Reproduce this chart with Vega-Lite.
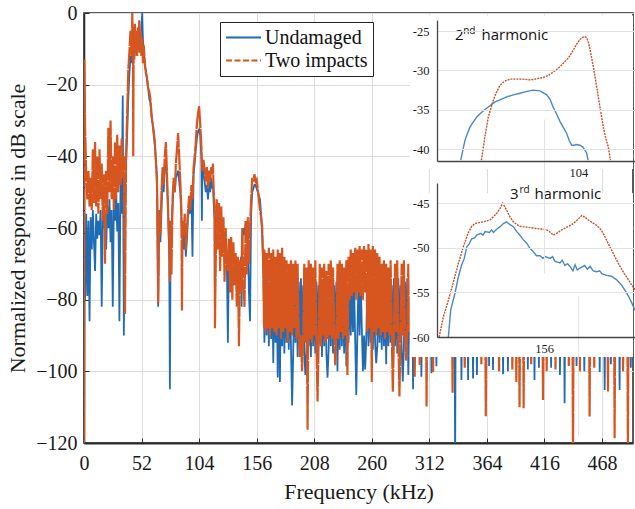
{
"$schema": "https://vega.github.io/schema/vega-lite/v6.json",
"width": 549, "height": 430,
"autosize": {"type": "none"},
"padding": {"left": 84, "top": 13, "right": 2, "bottom": 66},
"background": "white",
"config": {
  "view": {"stroke": "#262626", "strokeWidth": 1.5},
  "axis": {"labelFont": "Liberation Serif", "labelFontSize": 20, "labelColor": "#1a1a1a", "titleFont": "Liberation Serif", "titleFontSize": 22, "titleFontWeight": "normal", "titleColor": "#1a1a1a", "gridColor": "#dcdcdc", "gridWidth": 1, "domainColor": "#2a2a2a", "tickColor": "#2a2a2a"}
},
"datasets": {
"m": [
{"f":0,"u":-125,"t":-125},{"f":0.4,"u":-62,"t":-13},{"f":1,"u":-80,"t":-32},{"f":2,"u":-56,"t":-45},{"f":3,"u":-79,"t":-52},{"f":4,"u":-58,"t":-44},{"f":5,"u":-86,"t":-54},{"f":6,"u":-57,"t":-46},{"f":7,"u":-66,"t":-55},{"f":8,"u":-55,"t":-38},{"f":9,"u":-64,"t":-53},{"f":10,"u":-72,"t":-36},{"f":11,"u":-56,"t":-54},{"f":12,"u":-63,"t":-40},{"f":13,"u":-58,"t":-56},{"f":14,"u":-62,"t":-38},{"f":15,"u":-55,"t":-52},{"f":16,"u":-82,"t":-42},{"f":17,"u":-57,"t":-58},{"f":18,"u":-60,"t":-45},{"f":19,"u":-58,"t":-70},{"f":20,"u":-66,"t":-44},{"f":21,"u":-54,"t":-56},{"f":22,"u":-60,"t":-32},{"f":23,"u":-52,"t":-50},{"f":24,"u":-64,"t":-30},{"f":25,"u":-55,"t":-52},{"f":26,"u":-82,"t":-40},{"f":27,"u":-52,"t":-55},{"f":28,"u":-58,"t":-36},{"f":29,"u":-50,"t":-52},{"f":30,"u":-61,"t":-34},{"f":31,"u":-53,"t":-50},{"f":32,"u":-86,"t":-37},{"f":33,"u":-48,"t":-48},{"f":34,"u":-56,"t":-35},{"f":35,"u":-23,"t":-46},{"f":36,"u":-90,"t":-40},{"f":37,"u":-50,"t":-84},{"f":38,"u":-42,"t":-40},
{"f":39,"u":-34,"t":-28},{"f":40,"u":-24,"t":-16},{"f":41,"u":-17,"t":-11},{"f":42,"u":-12,"t":-5},{"f":43,"u":-14,"t":-12},{"f":43.6,"u":-9,"t":0},{"f":44.2,"u":-13,"t":-9},{"f":44.5,"u":-10,"t":-40},{"f":44.9,"u":-12,"t":-4},{"f":45.5,"u":-7,"t":-13},{"f":46,"u":-11,"t":-3},{"f":46.7,"u":-6,"t":-11},{"f":47.3,"u":-12,"t":-5},{"f":48,"u":-7,"t":-12},{"f":48.7,"u":-10,"t":-4},{"f":49.3,"u":-5,"t":-10},{"f":49.9,"u":-11,"t":-2},{"f":50.5,"u":-6,"t":-11},{"f":51.2,"u":-9,"t":-5},{"f":51.8,"u":-4,"t":-12},{"f":52.6,"u":0,"t":-7},{"f":53.2,"u":-7,"t":-14},{"f":54,"u":-11,"t":-9},{"f":55,"u":-15,"t":-14},{"f":56,"u":-16,"t":-17},{"f":57,"u":-19,"t":-18},{"f":58,"u":-21,"t":-21},{"f":59,"u":-24,"t":-22},{"f":60,"u":-25,"t":-24},{"f":61,"u":-29,"t":-28},{"f":62,"u":-31,"t":-31},{"f":63,"u":-34,"t":-33},{"f":64,"u":-37,"t":-36},{"f":65,"u":-41,"t":-42},{"f":66,"u":-46,"t":-48},{"f":67,"u":-82,"t":-81},{"f":68,"u":-56,"t":-55},{"f":69,"u":-64,"t":-62},
{"f":70,"u":-55,"t":-50},{"f":71,"u":-46,"t":-43},{"f":72,"u":-50,"t":-48},{"f":73,"u":-42,"t":-40},{"f":74,"u":-41,"t":-36},{"f":75,"u":-47,"t":-45},{"f":76,"u":-56,"t":-55},{"f":77,"u":-68,"t":-64},{"f":77.6,"u":-105,"t":-75},{"f":78.3,"u":-62,"t":-58},{"f":79,"u":-60,"t":-73},{"f":80,"u":-54,"t":-52},{"f":81,"u":-48,"t":-46},{"f":82,"u":-50,"t":-50},{"f":83,"u":-46,"t":-42},{"f":84,"u":-45,"t":-38},{"f":85,"u":-44,"t":-33.5},{"f":86,"u":-47,"t":-40},{"f":87,"u":-50,"t":-47},{"f":88,"u":-57,"t":-55},{"f":88.5,"u":-62,"t":-83},{"f":89,"u":-60,"t":-58},{"f":90,"u":-66,"t":-62},{"f":91,"u":-60,"t":-56},{"f":92,"u":-68,"t":-66},{"f":93,"u":-63,"t":-60},{"f":94,"u":-57,"t":-55},{"f":95,"u":-54,"t":-51},{"f":96,"u":-56,"t":-55},{"f":97,"u":-50,"t":-48},{"f":98,"u":-68,"t":-52},{"f":99,"u":-45,"t":-43},{"f":100,"u":-42,"t":-40},{"f":101,"u":-38,"t":-36},{"f":102,"u":-35,"t":-31},{"f":103,"u":-33,"t":-28},{"f":104,"u":-32.5,"t":-26},
{"f":105,"u":-34,"t":-31},{"f":106,"u":-40,"t":-37},{"f":106.5,"u":-58,"t":-41},{"f":107,"u":-42,"t":-44},{"f":108,"u":-45,"t":-41},{"f":109,"u":-47,"t":-44},{"f":110,"u":-50,"t":-47},{"f":111,"u":-48,"t":-43},{"f":112,"u":-52,"t":-49},{"f":113,"u":-47,"t":-44},{"f":114,"u":-50,"t":-47},{"f":115,"u":-46,"t":-43},{"f":116,"u":-49,"t":-45},{"f":116.5,"u":-48,"t":-42},{"f":117,"u":-52,"t":-48},{"f":118,"u":-58,"t":-55},{"f":118.3,"u":-83,"t":-88},{"f":119,"u":-57,"t":-70},{"f":120,"u":-56,"t":-52},{"f":121,"u":-55,"t":-66},{"f":122,"u":-58,"t":-53},{"f":123,"u":-57,"t":-72},{"f":124,"u":-60,"t":-54},{"f":125,"u":-59,"t":-68},{"f":126,"u":-62,"t":-57},{"f":127,"u":-64,"t":-75},{"f":128,"u":-66,"t":-60},{"f":129,"u":-68,"t":-70},{"f":130,"u":-92,"t":-72},{"f":131,"u":-66,"t":-63},{"f":132,"u":-64,"t":-78},{"f":133,"u":-66,"t":-62.5},{"f":134,"u":-65,"t":-80},{"f":135,"u":-70,"t":-64},{"f":136,"u":-69,"t":-76},{"f":137,"u":-71,"t":-67},{"f":138,"u":-72,"t":-82},{"f":139,"u":-74,"t":-68},{"f":140,"u":-78,"t":-93},{"f":141,"u":-70,"t":-69},{"f":142,"u":-68,"t":-78},{"f":142.4,"u":-82,"t":-72},{"f":143,"u":-63,"t":-60},{"f":144,"u":-60,"t":-75},{"f":145,"u":-62,"t":-82},{"f":146,"u":-59,"t":-58},{"f":147,"u":-60,"t":-73},{"f":148,"u":-61,"t":-57},{"f":149,"u":-78,"t":-70},{"f":150,"u":-86,"t":-60},{"f":151,"u":-56,"t":-52},{"f":152,"u":-50,"t":-46},{"f":153,"u":-49,"t":-47},{"f":154,"u":-48,"t":-45},{"f":155,"u":-48,"t":-47},{"f":156,"u":-49,"t":-46.5},{"f":157,"u":-50,"t":-49},{"f":158,"u":-51,"t":-52},{"f":159,"u":-52,"t":-55},{"f":160,"u":-56,"t":-57},{"f":161,"u":-62,"t":-60},{"f":162,"u":-70,"t":-72},{"f":162.7,"u":-86,"t":-88},
{"f":163,"u":-92,"t":-66},{"f":164,"u":-74,"t":-89},{"f":165,"u":-90,"t":-67},{"f":166,"u":-72,"t":-88},{"f":167,"u":-93,"t":-65.5},{"f":168,"u":-75,"t":-90},{"f":169,"u":-91,"t":-67},{"f":170,"u":-73,"t":-88},{"f":171,"u":-97.7,"t":-66},{"f":172,"u":-74,"t":-89},{"f":173,"u":-92,"t":-68},{"f":174,"u":-72,"t":-90},{"f":175,"u":-101.7,"t":-66},{"f":176,"u":-76,"t":-88},{"f":177,"u":-103,"t":-67},{"f":178,"u":-74,"t":-91},{"f":179,"u":-93,"t":-65.5},{"f":180,"u":-73,"t":-89},{"f":181,"u":-95,"t":-68},{"f":182,"u":-75,"t":-88},{"f":183,"u":-92,"t":-69},{"f":184,"u":-74,"t":-92},{"f":185,"u":-94,"t":-70},{"f":186,"u":-76,"t":-89},{"f":187,"u":-93,"t":-69},{"f":188,"u":-109.5,"t":-90},{"f":189,"u":-95,"t":-70},{"f":190,"u":-75,"t":-88},{"f":191,"u":-92,"t":-69},{"f":192,"u":-74,"t":-91},{"f":193,"u":-96,"t":-70},{"f":194,"u":-75,"t":-89},{"f":195,"u":-93,"t":-96},{"f":196,"u":-74,"t":-90},{"f":197,"u":-92,"t":-100},{"f":198,"u":-76,"t":-91},{"f":199,"u":-95,"t":-70},{"f":200,"u":-101,"t":-92},{"f":201,"u":-94,"t":-71},{"f":202,"u":-75,"t":-116.3},{"f":203,"u":-93,"t":-69},{"f":204,"u":-76,"t":-91},{"f":205,"u":-96,"t":-70},{"f":206,"u":-74,"t":-92},{"f":207,"u":-93,"t":-71},{"f":208,"u":-77,"t":-90},{"f":209,"u":-95,"t":-69},{"f":210,"u":-75,"t":-92},{"f":211,"u":-94,"t":-108.4},{"f":212,"u":-76,"t":-91},{"f":213,"u":-92,"t":-70},{"f":214,"u":-74,"t":-93},{"f":215,"u":-96,"t":-71},{"f":216,"u":-75,"t":-90},{"f":217,"u":-93,"t":-70},{"f":218,"u":-76,"t":-92},{"f":219,"u":-95,"t":-72},{"f":220,"u":-101.8,"t":-91},{"f":221,"u":-94,"t":-70},{"f":222,"u":-75,"t":-90},{"f":223,"u":-93,"t":-69},{"f":224,"u":-74,"t":-91},{"f":225,"u":-95,"t":-71},{"f":226,"u":-76,"t":-89},{"f":227,"u":-92,"t":-98.3},{"f":228,"u":-75,"t":-90},{"f":229,"u":-100,"t":-70},{"f":230,"u":-74,"t":-91},{"f":231,"u":-94,"t":-69},{"f":232,"u":-76,"t":-89},{"f":233,"u":-93,"t":-70},{"f":234,"u":-75,"t":-91},{"f":235,"u":-95,"t":-71},{"f":236,"u":-74,"t":-90},{"f":237,"u":-98.6,"t":-69},{"f":238,"u":-76,"t":-101},{"f":239,"u":-92,"t":-68},{"f":240,"u":-75,"t":-80},{"f":241,"u":-90,"t":-66},{"f":242,"u":-74,"t":-79},{"f":243,"u":-89,"t":-67},{"f":244,"u":-76,"t":-78},{"f":245,"u":-91,"t":-65.5},{"f":246,"u":-106.6,"t":-80},{"f":247,"u":-89,"t":-66},{"f":248,"u":-75,"t":-78},{"f":249,"u":-90,"t":-65},{"f":250,"u":-74,"t":-79},{"f":251,"u":-88,"t":-66},{"f":252,"u":-100,"t":-80},{"f":253,"u":-90,"t":-65},{"f":254,"u":-99.5,"t":-78},{"f":255,"u":-91,"t":-66},{"f":256,"u":-74,"t":-89},{"f":257,"u":-93,"t":-64.5},{"f":258,"u":-75,"t":-88},{"f":259,"u":-92,"t":-66},{"f":260,"u":-74,"t":-103},{"f":261,"u":-94,"t":-65},{"f":262,"u":-76,"t":-89},{"f":263,"u":-92,"t":-66},{"f":264,"u":-97.7,"t":-90},{"f":265,"u":-93,"t":-67},{"f":266,"u":-75,"t":-88},{"f":267,"u":-92,"t":-68},{"f":268,"u":-74,"t":-90},{"f":269,"u":-94,"t":-70},{"f":270,"u":-75,"t":-89},{"f":271,"u":-93,"t":-69},{"f":272,"u":-76,"t":-91},{"f":273,"u":-98,"t":-70},{"f":274,"u":-74,"t":-89},{"f":275,"u":-93,"t":-71},{"f":276,"u":-75,"t":-90},{"f":277,"u":-92,"t":-69},{"f":278,"u":-76,"t":-88},{"f":279,"u":-94,"t":-105.7},{"f":280,"u":-74,"t":-90},{"f":281,"u":-93,"t":-70},{"f":282,"u":-75,"t":-89},{"f":283,"u":-95,"t":-69},{"f":284,"u":-74,"t":-91},{"f":285,"u":-92,"t":-107},{"f":286,"u":-76,"t":-89},{"f":287,"u":-94,"t":-70},{"f":288,"u":-102.8,"t":-90},{"f":289,"u":-93,"t":-69},{"f":290,"u":-75,"t":-88},{"f":291,"u":-92,"t":-97},{"f":292,"u":-74,"t":-90},{"f":293,"u":-101,"t":-70},{"f":294,"u":-85,"t":-89},
{"f":296.8,"u":-85,"t":-85},{"f":297.3,"u":-105,"t":-85},{"f":297.8,"u":-85,"t":-85},{"f":298.3,"u":-85,"t":-85},{"f":298.8,"u":-85,"t":-101.5},{"f":299.3,"u":-85,"t":-85},
{"f":302.8,"u":-85,"t":-85},{"f":303.3,"u":-85,"t":-98.2},{"f":303.8,"u":-85,"t":-85},{"f":304.3,"u":-85,"t":-85},{"f":304.8,"u":-101.5,"t":-85},{"f":305.3,"u":-85,"t":-85},
{"f":309,"u":-85,"t":-85},{"f":309.5,"u":-85,"t":-109.8},{"f":310,"u":-85,"t":-85},{"f":313.4,"u":-85,"t":-85},{"f":313.9,"u":-100.5,"t":-85},{"f":314.4,"u":-85,"t":-85},{"f":314.9,"u":-85,"t":-85},{"f":315.4,"u":-85,"t":-100.2},{"f":315.9,"u":-85,"t":-85},{"f":317.9,"u":-85,"t":-85},{"f":318.4,"u":-98.6,"t":-85},{"f":318.9,"u":-85,"t":-85},
{"f":332.5,"u":-85,"t":-85},{"f":333,"u":-85,"t":-106},{"f":333.5,"u":-85,"t":-85},{"f":334.8,"u":-85,"t":-85},{"f":335.3,"u":-125,"t":-85},{"f":335.8,"u":-85,"t":-85},
{"f":340.5,"u":-85,"t":-85},{"f":341,"u":-102.4,"t":-85},{"f":341.5,"u":-85,"t":-85},{"f":343.5,"u":-85,"t":-85},{"f":344,"u":-85,"t":-99},{"f":344.5,"u":-85,"t":-85},{"f":346.5,"u":-85,"t":-85},{"f":347,"u":-102.4,"t":-85},{"f":347.5,"u":-85,"t":-85},{"f":351,"u":-85,"t":-85},{"f":351.5,"u":-102,"t":-85},{"f":352,"u":-85,"t":-85},{"f":354.5,"u":-85,"t":-85},{"f":355,"u":-101,"t":-85},{"f":355.5,"u":-85,"t":-85},{"f":358.5,"u":-85,"t":-85},{"f":359,"u":-85,"t":-98},{"f":359.5,"u":-85,"t":-85},
{"f":362.5,"u":-85,"t":-85},{"f":363,"u":-85,"t":-112.5},{"f":363.5,"u":-85,"t":-85},{"f":365.5,"u":-85,"t":-85},{"f":366,"u":-98.5,"t":-85},{"f":366.5,"u":-85,"t":-85},{"f":369,"u":-85,"t":-85},{"f":369.5,"u":-99.6,"t":-85},{"f":370,"u":-85,"t":-85},{"f":374.5,"u":-85,"t":-85},{"f":375,"u":-85,"t":-100},{"f":375.5,"u":-85,"t":-85},{"f":378.1,"u":-85,"t":-85},{"f":378.6,"u":-100.8,"t":-85},{"f":379.1,"u":-85,"t":-85},{"f":382.5,"u":-85,"t":-85},{"f":383,"u":-100,"t":-85},{"f":383.5,"u":-85,"t":-85},{"f":386.5,"u":-85,"t":-85},{"f":387,"u":-85,"t":-99.5},{"f":387.5,"u":-85,"t":-85},
{"f":390.1,"u":-85,"t":-85},{"f":390.6,"u":-85,"t":-103},{"f":391.1,"u":-85,"t":-85},{"f":393,"u":-85,"t":-85},{"f":393.5,"u":-85,"t":-110},{"f":394,"u":-85,"t":-85},{"f":396.7,"u":-85,"t":-85},{"f":397.2,"u":-85,"t":-110.3},{"f":397.7,"u":-85,"t":-85},{"f":400.5,"u":-85,"t":-85},{"f":401,"u":-99.5,"t":-85},{"f":401.5,"u":-85,"t":-85},{"f":403.5,"u":-85,"t":-85},{"f":404,"u":-85,"t":-98},{"f":404.5,"u":-85,"t":-85},{"f":406.5,"u":-85,"t":-85},{"f":407,"u":-102.4,"t":-85},{"f":407.5,"u":-85,"t":-85},{"f":410.5,"u":-85,"t":-85},{"f":411,"u":-99,"t":-85},{"f":411.5,"u":-85,"t":-85},
{"f":414.2,"u":-85,"t":-85},{"f":414.7,"u":-85,"t":-108},{"f":415.2,"u":-85,"t":-85},{"f":417.5,"u":-85,"t":-85},{"f":418,"u":-85,"t":-100},{"f":418.5,"u":-85,"t":-85},{"f":421.5,"u":-85,"t":-85},{"f":422,"u":-99,"t":-85},{"f":422.5,"u":-85,"t":-85},{"f":425.5,"u":-85,"t":-85},{"f":426,"u":-85,"t":-99.5},{"f":426.5,"u":-85,"t":-85},{"f":429.5,"u":-85,"t":-85},{"f":430,"u":-101,"t":-85},{"f":430.5,"u":-85,"t":-85},{"f":433.7,"u":-85,"t":-85},{"f":434.2,"u":-108.9,"t":-85},{"f":434.7,"u":-85,"t":-85},{"f":437.5,"u":-85,"t":-85},{"f":438,"u":-85,"t":-98.5},{"f":438.5,"u":-85,"t":-85},
{"f":441.3,"u":-85,"t":-85},{"f":441.8,"u":-85,"t":-125},{"f":442.3,"u":-85,"t":-85},{"f":444.5,"u":-85,"t":-85},{"f":445,"u":-98.5,"t":-85},{"f":445.5,"u":-85,"t":-85},{"f":447.5,"u":-85,"t":-85},{"f":448,"u":-85,"t":-100},{"f":448.5,"u":-85,"t":-85},{"f":451.5,"u":-85,"t":-85},{"f":452,"u":-100,"t":-85},{"f":452.5,"u":-85,"t":-85},{"f":456.3,"u":-85,"t":-85},{"f":456.8,"u":-85,"t":-112.6},{"f":457.3,"u":-85,"t":-85},{"f":460.5,"u":-85,"t":-85},{"f":461,"u":-85,"t":-99},{"f":461.5,"u":-85,"t":-85},
{"f":465.4,"u":-85,"t":-85},{"f":465.9,"u":-100.2,"t":-85},{"f":466.4,"u":-85,"t":-85},{"f":469.9,"u":-85,"t":-85},{"f":470.4,"u":-105.2,"t":-85},{"f":470.9,"u":-85,"t":-85},{"f":472.9,"u":-85,"t":-85},{"f":473.4,"u":-85,"t":-105.6},{"f":473.9,"u":-85,"t":-85},{"f":475.5,"u":-85,"t":-85},{"f":476,"u":-98,"t":-85},{"f":476.5,"u":-85,"t":-85},{"f":478.9,"u":-85,"t":-85},{"f":479.4,"u":-85,"t":-118.7},{"f":479.9,"u":-85,"t":-85},{"f":483.4,"u":-85,"t":-85},{"f":483.9,"u":-105.2,"t":-85},{"f":484.4,"u":-85,"t":-85},{"f":486.5,"u":-85,"t":-85},{"f":487,"u":-85,"t":-100},{"f":487.5,"u":-85,"t":-85},{"f":490.9,"u":-85,"t":-85},{"f":491.4,"u":-85,"t":-125},{"f":491.9,"u":-85,"t":-85},{"f":493.5,"u":-85,"t":-85},{"f":494,"u":-99,"t":-85},{"f":494.5,"u":-85,"t":-85},{"f":496,"u":-85,"t":-85}
],
"i1u": [
{"f":95.68,"v":-41.4},{"f":95.98,"v":-38.85},{"f":96.15,"v":-38.0},{"f":96.33,"v":-37.2},{"f":96.55,"v":-36.6},{"f":96.81,"v":-35.9},{"f":97.1,"v":-35.4},{"f":97.51,"v":-34.8},{"f":98.1,"v":-34.0},{"f":98.5,"v":-33.7},{"f":98.93,"v":-33.35},{"f":99.4,"v":-33.1},{"f":99.87,"v":-32.9},{"f":100.3,"v":-32.7},{"f":100.79,"v":-32.5},{"f":101.28,"v":-32.6},{"f":101.76,"v":-33.1},{"f":102.0,"v":-33.7},{"f":102.2,"v":-34.6},{"f":102.45,"v":-35.5},{"f":102.7,"v":-36.5},{"f":102.95,"v":-37.3},{"f":103.17,"v":-38.0},{"f":103.35,"v":-38.9},{"f":103.52,"v":-39.5},{"f":103.7,"v":-39.5},{"f":103.88,"v":-39.4},{"f":104.1,"v":-39.5},{"f":104.3,"v":-39.7},{"f":104.45,"v":-40.1},{"f":104.58,"v":-40.5},{"f":104.68,"v":-41.4}
],
"i1t": [
{"f":97.14,"v":-41.4},{"f":97.39,"v":-38.4},{"f":97.63,"v":-35.9},{"f":97.98,"v":-33.8},{"f":98.2,"v":-32.8},{"f":98.45,"v":-31.9},{"f":98.75,"v":-31.4},{"f":99.16,"v":-31.1},{"f":99.6,"v":-31.1},{"f":100.1,"v":-31.1},{"f":100.5,"v":-31.2},{"f":100.81,"v":-31.15},{"f":101.2,"v":-31.0},{"f":101.52,"v":-30.9},{"f":101.9,"v":-30.6},{"f":102.22,"v":-30.2},{"f":102.6,"v":-29.7},{"f":102.93,"v":-29.1},{"f":103.3,"v":-28.4},{"f":103.64,"v":-27.4},{"f":103.9,"v":-26.6},{"f":104.11,"v":-26.06},{"f":104.3,"v":-25.8},{"f":104.46,"v":-25.7},{"f":104.6,"v":-25.9},{"f":104.7,"v":-26.4},{"f":104.85,"v":-27.6},{"f":105.05,"v":-29.5},{"f":105.22,"v":-31.3},{"f":105.4,"v":-33.3},{"f":105.58,"v":-35.3},{"f":105.76,"v":-37.2},{"f":105.95,"v":-38.7},{"f":106.11,"v":-39.7},{"f":106.26,"v":-41.4}
],
"i2u": [
{"f":147.06,"v":-60},{"f":147.28,"v":-57.0},{"f":147.68,"v":-55.1},{"f":148.0,"v":-53.25},{"f":148.31,"v":-51.9},{"f":148.55,"v":-51.2},{"f":148.78,"v":-49.9},{"f":149.0,"v":-49.6},{"f":149.24,"v":-49.0},{"f":149.5,"v":-48.9},{"f":149.71,"v":-48.6},{"f":150.1,"v":-48.4},{"f":150.3,"v":-48.6},{"f":150.49,"v":-48.2},{"f":150.9,"v":-48.3},{"f":151.1,"v":-48.0},{"f":151.27,"v":-48.3},{"f":151.6,"v":-47.9},{"f":151.9,"v":-47.65},{"f":152.2,"v":-47.3},{"f":152.5,"v":-47.1},{"f":152.8,"v":-47.4},{"f":153.13,"v":-47.65},{"f":153.45,"v":-48.2},{"f":153.75,"v":-48.6},{"f":154.05,"v":-49.1},{"f":154.38,"v":-49.5},{"f":154.7,"v":-50.1},{"f":155.0,"v":-50.45},{"f":155.3,"v":-50.9},{"f":155.62,"v":-50.9},{"f":155.9,"v":-51.2},{"f":156.1,"v":-51.0},{"f":156.56,"v":-51.2},{"f":156.8,"v":-51.0},{"f":157.0,"v":-51.5},{"f":157.49,"v":-51.7},{"f":157.7,"v":-51.4},{"f":157.95,"v":-52.0},{"f":158.2,"v":-51.8},{"f":158.43,"v":-52.1},{"f":158.7,"v":-52.6},{"f":158.9,"v":-51.9},{"f":159.1,"v":-52.5},{"f":159.36,"v":-52.3},{"f":159.8,"v":-52.0},{"f":160.05,"v":-52.4},{"f":160.3,"v":-52.1},{"f":160.6,"v":-52.6},{"f":160.92,"v":-52.7},{"f":161.2,"v":-52.6},{"f":161.4,"v":-52.9},{"f":161.86,"v":-53.1},{"f":162.3,"v":-53.2},{"f":162.79,"v":-53.6},{"f":163.25,"v":-54.2},{"f":163.73,"v":-55.1},{"f":164.05,"v":-55.8},{"f":164.35,"v":-56.6},{"f":164.5,"v":-57}
],
"i2t": [
{"f":146.2,"v":-60},{"f":146.6,"v":-57.7},{"f":147.06,"v":-55.9},{"f":147.5,"v":-54.0},{"f":148.0,"v":-51.75},{"f":148.46,"v":-49.9},{"f":148.9,"v":-48.4},{"f":149.25,"v":-47.6},{"f":149.55,"v":-47.3},{"f":149.95,"v":-47.2},{"f":150.33,"v":-47.1},{"f":150.65,"v":-47.0},{"f":150.95,"v":-46.9},{"f":151.3,"v":-46.5},{"f":151.58,"v":-46.15},{"f":151.9,"v":-45.6},{"f":152.14,"v":-45.0},{"f":152.5,"v":-45.8},{"f":152.8,"v":-46.5},{"f":153.13,"v":-47.1},{"f":153.45,"v":-47.4},{"f":153.75,"v":-47.6},{"f":154.4,"v":-47.7},{"f":155.0,"v":-47.8},{"f":155.6,"v":-47.9},{"f":156.25,"v":-48.0},{"f":156.6,"v":-48.3},{"f":156.87,"v":-48.6},{"f":157.3,"v":-48.3},{"f":157.8,"v":-47.9},{"f":158.3,"v":-47.6},{"f":158.74,"v":-47.3},{"f":159.1,"v":-46.9},{"f":159.52,"v":-46.4},{"f":159.85,"v":-46.6},{"f":160.14,"v":-46.9},{"f":160.5,"v":-47.2},{"f":160.92,"v":-47.5},{"f":161.25,"v":-47.9},{"f":161.54,"v":-48.4},{"f":161.9,"v":-49.3},{"f":162.32,"v":-50.3},{"f":162.7,"v":-51.2},{"f":163.1,"v":-52.1},{"f":163.5,"v":-52.9},{"f":163.88,"v":-53.6},{"f":164.2,"v":-54.2},{"f":164.5,"v":-54.7}
]
},
"layer": [
 {"layer": [
  {"data": {"name": "m"},
   "transform": [{"fold": ["u", "t"], "as": ["key", "v"]}, {"filter": "datum.key == 'u'"}],
   "mark": {"type": "line", "clip": true, "strokeWidth": 1.8},
   "encoding": {
    "x": {"field": "f", "type": "quantitative", "scale": {"domain": [0, 496], "nice": false, "zero": false},
          "axis": {"values": [0,52,104,156,208,260,312,364,416,468], "title": "Frequency (kHz)", "grid": true, "labelFlush": false, "labelOverlap": false, "tickSize": -5, "labelPadding": 15, "titlePadding": 8, "domainWidth": 2}},
    "y": {"field": "v", "type": "quantitative", "scale": {"domain": [-120, 0], "nice": false, "zero": false},
          "axis": {"values": [-120,-100,-80,-60,-40,-20,0], "title": "Normalized response in dB scale", "grid": true, "tickSize": -5, "labelPadding": 12, "titlePadding": 6, "domainWidth": 1.5}},
    "color": {"field": "key", "type": "nominal", "scale": {"domain": ["u", "t"], "range": ["#1f6bb4", "#d75620"]},
              "legend": {"title": null, "orient": "none", "legendX": 136, "legendY": 9, "labelExpr": "datum.value == 'u' ? 'Undamaged' : 'Two impacts'", "symbolType": "stroke", "symbolSize": 1225, "symbolStrokeWidth": 2, "clipHeight": 21, "labelFont": "Liberation Serif", "labelFontSize": 20, "labelColor": "#111111", "strokeColor": "#222222", "fillColor": "white", "padding": 5, "rowPadding": 2, "labelOffset": 3}},
    "strokeDash": {"field": "key", "type": "nominal", "scale": {"domain": ["u", "t"], "range": [[1, 0], [6, 2.5]]},
              "legend": {"title": null, "orient": "none", "legendX": 136, "legendY": 9, "labelExpr": "datum.value == 'u' ? 'Undamaged' : 'Two impacts'", "symbolType": "stroke", "symbolSize": 1225, "symbolStrokeWidth": 2, "clipHeight": 21, "labelFont": "Liberation Serif", "labelFontSize": 20, "labelColor": "#111111", "strokeColor": "#222222", "fillColor": "white", "padding": 5, "rowPadding": 2, "labelOffset": 3}}
   }},
  {"data": {"name": "m"},
   "transform": [{"fold": ["u", "t"], "as": ["key", "v"]}, {"filter": "datum.key == 't'"}],
   "mark": {"type": "line", "clip": true, "strokeWidth": 2.2, "strokeDash": [22, 0.8]},
   "encoding": {
    "x": {"field": "f", "type": "quantitative"},
    "y": {"field": "v", "type": "quantitative"},
    "color": {"field": "key", "type": "nominal"}
   }},
  {"data": {"values": [{}]}, "mark": {"type": "rect", "color": "white", "clip": true},
   "encoding": {"x": {"datum": 294.3, "type": "quantitative"}, "x2": {"datum": 500}, "y": {"datum": -43.5, "type": "quantitative"}, "y2": {"datum": -0.7}}},
  {"data": {"values": [{}]}, "mark": {"type": "rect", "color": "white", "clip": true},
   "encoding": {"x": {"datum": 294.3, "type": "quantitative"}, "x2": {"datum": 500}, "y": {"datum": -96, "type": "quantitative"}, "y2": {"datum": -50.2}}}
 ]},
 {"layer": [
  {"data": {"name": "i1u"}, "mark": {"type": "line", "color": "#4a88c4", "strokeWidth": 1.4},
   "encoding": {
    "x": {"field": "f", "type": "quantitative", "scale": {"domain": [94, 108], "range": [353, 551], "nice": false, "zero": false},
          "axis": {"orient": "bottom", "offset": -282, "values": [104], "title": null, "grid": true, "gridColor": "#e2e2e2", "ticks": false, "labelFont": "Liberation Serif", "labelFontSize": 12.5, "labelPadding": 5, "labelFlush": false, "domainColor": "#444444", "domainWidth": 1.3, "zindex": 1}},
    "y": {"field": "v", "type": "quantitative", "scale": {"domain": [-41.5, -23.6], "range": [148, 7], "nice": false, "zero": false},
          "axis": {"orient": "left", "offset": -353, "values": [-40, -35, -30, -25], "title": null, "grid": true, "gridColor": "#e2e2e2", "ticks": false, "labelFont": "Liberation Serif", "labelFontSize": 12.5, "labelPadding": 8, "labelExpr": "replace(datum.label, '−', '-')", "domainColor": "#444444", "domainWidth": 1.3, "zindex": 1}}
   }},
  {"data": {"name": "i1t"}, "mark": {"type": "line", "color": "#c0532a", "strokeWidth": 1.4, "strokeDash": [2, 1]},
   "encoding": {"x": {"field": "f", "type": "quantitative"}, "y": {"field": "v", "type": "quantitative"}}},
  {"data": {"values": [{}]}, "mark": {"type": "text", "text": "2", "font": "Open Sans", "fontSize": 15, "align": "left", "baseline": "alphabetic", "color": "#111111"},
   "encoding": {"x": {"datum": 95.27, "type": "quantitative"}, "y": {"datum": -26.14, "type": "quantitative"}}},
  {"data": {"values": [{}]}, "mark": {"type": "text", "text": "nd", "font": "Open Sans", "fontSize": 10, "align": "left", "baseline": "alphabetic", "dy": -6, "color": "#111111"},
   "encoding": {"x": {"datum": 95.85, "type": "quantitative"}, "y": {"datum": -26.14, "type": "quantitative"}}},
  {"data": {"values": [{}]}, "mark": {"type": "text", "text": "harmonic", "font": "Open Sans", "fontSize": 15, "align": "left", "baseline": "alphabetic", "color": "#111111"},
   "encoding": {"x": {"datum": 97.15, "type": "quantitative"}, "y": {"datum": -26.14, "type": "quantitative"}}}
 ]},
 {"layer": [
  {"data": {"name": "i2u"}, "mark": {"type": "line", "color": "#4a88c4", "strokeWidth": 1.4},
   "encoding": {
    "x": {"field": "f", "type": "quantitative", "scale": {"domain": [146, 164.5], "range": [353, 551], "nice": false, "zero": false},
          "axis": {"orient": "bottom", "offset": -106, "values": [156], "title": null, "grid": true, "gridColor": "#e2e2e2", "ticks": false, "labelFont": "Liberation Serif", "labelFontSize": 12.5, "labelPadding": 5, "labelFlush": false, "domainColor": "#444444", "domainWidth": 1.3, "zindex": 1}},
    "y": {"field": "v", "type": "quantitative", "scale": {"domain": [-60, -42.76], "range": [324, 170], "nice": false, "zero": false},
          "axis": {"orient": "left", "offset": -353, "values": [-60, -55, -50, -45], "title": null, "grid": true, "gridColor": "#e2e2e2", "ticks": false, "labelFont": "Liberation Serif", "labelFontSize": 12.5, "labelPadding": 8, "labelExpr": "replace(datum.label, '−', '-')", "domainColor": "#444444", "domainWidth": 1.3, "zindex": 1}}
   }},
  {"data": {"name": "i2t"}, "mark": {"type": "line", "color": "#c0532a", "strokeWidth": 1.4, "strokeDash": [2, 1]},
   "encoding": {"x": {"field": "f", "type": "quantitative"}, "y": {"field": "v", "type": "quantitative"}}},
  {"data": {"values": [{}]}, "mark": {"type": "text", "text": "3", "font": "Open Sans", "fontSize": 15, "align": "left", "baseline": "alphabetic", "color": "#111111"},
   "encoding": {"x": {"datum": 152.82, "type": "quantitative"}, "y": {"datum": -44.59, "type": "quantitative"}}},
  {"data": {"values": [{}]}, "mark": {"type": "text", "text": "rd", "font": "Open Sans", "fontSize": 10, "align": "left", "baseline": "alphabetic", "dy": -6, "color": "#111111"},
   "encoding": {"x": {"datum": 153.7, "type": "quantitative"}, "y": {"datum": -44.59, "type": "quantitative"}}},
  {"data": {"values": [{}]}, "mark": {"type": "text", "text": "harmonic", "font": "Open Sans", "fontSize": 15, "align": "left", "baseline": "alphabetic", "color": "#111111"},
   "encoding": {"x": {"datum": 155.1, "type": "quantitative"}, "y": {"datum": -44.59, "type": "quantitative"}}}
 ]}
],
"resolve": {"scale": {"x": "independent", "y": "independent"}, "axis": {"x": "independent", "y": "independent"}}
}
